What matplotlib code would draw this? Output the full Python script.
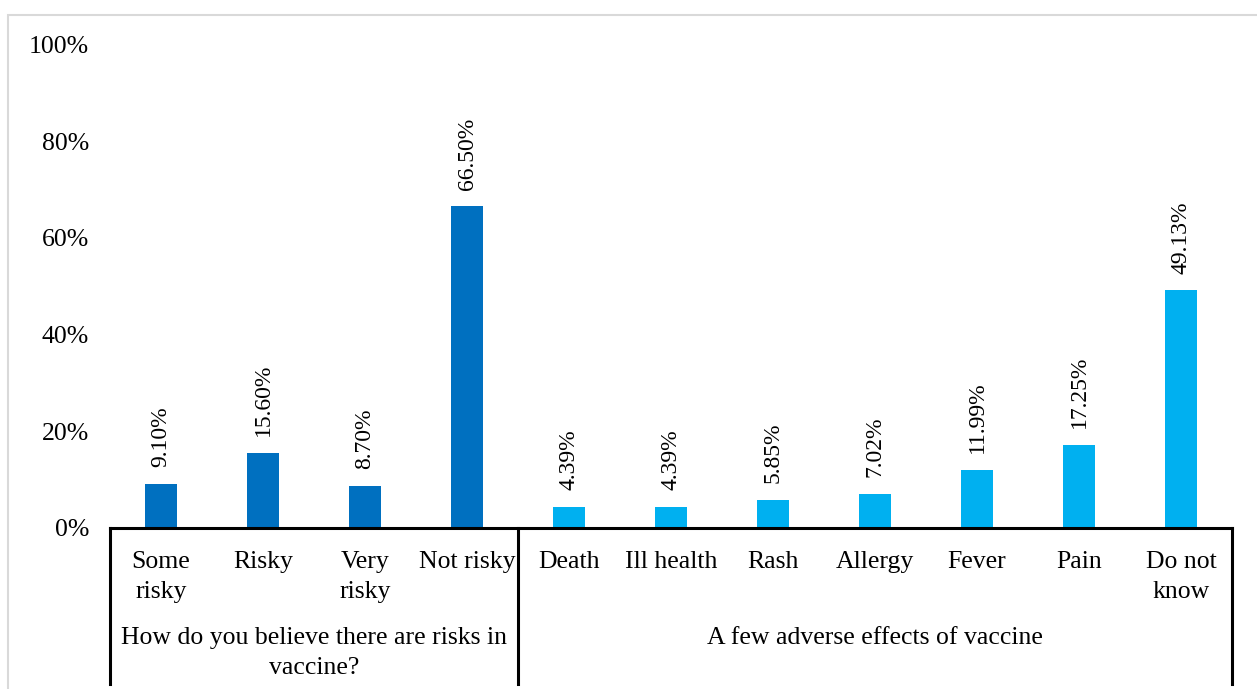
import matplotlib
matplotlib.use("Agg")
import matplotlib.pyplot as plt
import matplotlib.transforms as mtransforms
from matplotlib.lines import Line2D
from matplotlib.patches import Rectangle

# Survey responses (percent of respondents)
risk_categories = ["Some\nrisky", "Risky", "Very\nrisky", "Not risky"]
risk_values = [9.10, 15.60, 8.70, 66.50]

effect_categories = ["Death", "Ill health", "Rash", "Allergy", "Fever", "Pain", "Do not\nknow"]
effect_values = [4.39, 4.39, 5.85, 7.02, 11.99, 17.25, 49.13]

group_labels = ["How do you believe there are risks in\nvaccine?",
                "A few adverse effects of vaccine"]
y_ticks = [0, 20, 40, 60, 80, 100]

risk_color = "#0070C0"
effect_color = "#00B0F0"

plt.rcParams["font.family"] = ["Liberation Serif", "DejaVu Serif"]

W, H = 1257, 689
fig = plt.figure(figsize=(W / 100, H / 100), dpi=100)

left, right = 110 / W, 1232 / W
bottom, top = 1 - 528 / H, 1 - 44.5 / H
ax = fig.add_axes([left, bottom, right - left, top - bottom])

categories = risk_categories + effect_categories
values = risk_values + effect_values
colors = [risk_color] * len(risk_values) + [effect_color] * len(effect_values)
n = len(categories)
xs = list(range(n))

ax.bar(xs, values, width=0.32, color=colors, zorder=2)
for x, v in zip(xs, values):
    ax.annotate(f"{v:.2f}%", xy=(x, v), xytext=(0, 12), textcoords="offset points",
                rotation=90, ha="center", va="bottom", fontsize=17)

ax.set_xlim(-0.5, n - 0.5)
ax.set_ylim(0, 100)
ax.set_yticks(y_ticks)
ax.set_yticklabels([f"{t}%" for t in y_ticks], fontsize=18.5)
ax.tick_params(axis="y", length=0, pad=15)
ax.set_xticks([])
for s in ["top", "right", "left"]:
    ax.spines[s].set_visible(False)
ax.spines["bottom"].set_linewidth(2.2)
ax.spines["bottom"].set_color("black")

blend = mtransforms.blended_transform_factory(ax.transData, fig.transFigure)

# Category labels below the axis
for x, lab in zip(xs, categories):
    ax.text(x, 1 - 551 / H, lab, transform=blend, ha="center", va="top",
            fontsize=18.5, linespacing=1.45)

# Group labels
n_risk = len(risk_categories)
centers = [(n_risk - 1) / 2, n_risk + (len(effect_categories) - 1) / 2]
for c, lab in zip(centers, group_labels):
    ax.text(c, 1 - 627 / H, lab, transform=blend, ha="center", va="top",
            fontsize=18.5, linespacing=1.45)

# Group separators
y0, y1 = 1 - 528 / H, 1 - 684 / H
for xb in [-0.5, n_risk - 0.5, n - 0.5]:
    ax.add_line(Line2D([xb, xb], [y0, y1], transform=blend, color="black",
                       lw=2.2, clip_on=False, solid_capstyle="projecting"))

# Light outer frame
fig.add_artist(Rectangle((7.5 / W, -0.1), 1.2, 1 - 15 / H + 0.1, transform=fig.transFigure,
                         fill=False, edgecolor="#d9d9d9", lw=1.5))

fig.savefig("out.png", dpi=100, facecolor="white")
